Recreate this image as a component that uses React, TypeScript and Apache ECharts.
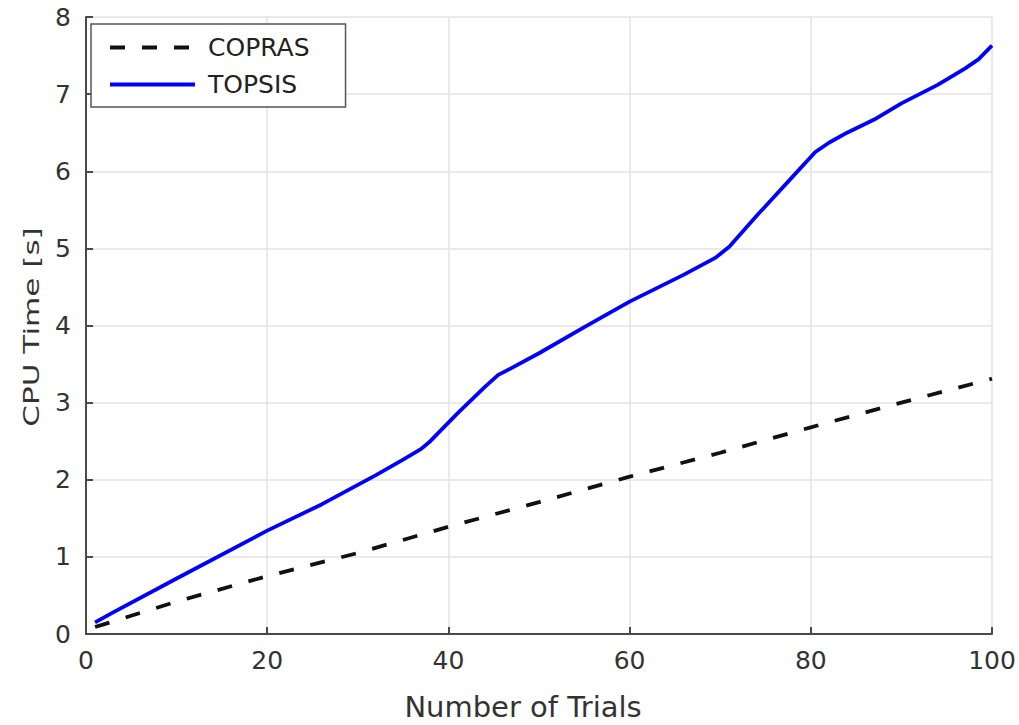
import React, { useEffect, useRef } from "react";
import * as echarts from "echarts";

// CPU time measured per number of trials
const coprasData: [number, number][] = [
  [1, 0.09], [10, 0.42], [20, 0.75], [30, 1.05], [40, 1.39], [50, 1.71],
  [60, 2.04], [70, 2.35], [80, 2.68], [90, 3.0], [100, 3.31],
];

const topsisData: [number, number][] = [
  [1, 0.15], [3, 0.28], [10, 0.72], [20, 1.34], [26, 1.68], [32, 2.06],
  [35, 2.26], [37, 2.4], [38, 2.5], [41, 2.86], [44, 3.2], [45.5, 3.36],
  [47, 3.45], [50, 3.64], [55, 3.98], [60, 4.31], [66, 4.66], [69.5, 4.88],
  [71, 5.02], [74, 5.42], [78, 5.93], [80.5, 6.25], [82, 6.37], [84, 6.5],
  [87, 6.67], [90, 6.88], [94, 7.12], [97, 7.33], [98.5, 7.45], [100, 7.63],
];

const xTicks = { min: 0, max: 100, interval: 20 };
const yTicks = { min: 0, max: 8, interval: 1 };

const FONT = "DejaVu Sans";
const AXIS_COLOR = "#4a4a4a";
const GRID_COLOR = "#e3e3e3";
const LABEL_COLOR = "#333";

export default function App() {
  const ref = useRef<HTMLDivElement>(null);

  useEffect(() => {
    if (!ref.current) return;
    const chart = echarts.init(ref.current, undefined, { renderer: "svg" });

    const axisCommon = {
      type: "value" as const,
      axisLine: { show: true, onZero: false, lineStyle: { color: AXIS_COLOR, width: 2 } },
      axisTick: { show: true, inside: true, length: 7, lineStyle: { color: AXIS_COLOR, width: 2 } },
      axisLabel: { color: LABEL_COLOR, fontFamily: FONT, fontSize: 25 },
      splitLine: { show: true, lineStyle: { color: GRID_COLOR, width: 1.5 } },
    };

    chart.setOption({
      animation: false,
      backgroundColor: "#fff",
      grid: { left: 86, right: 27, top: 17, bottom: 91, containLabel: false },
      xAxis: {
        ...axisCommon,
        ...xTicks,
        axisLabel: { ...axisCommon.axisLabel, margin: 14 },
      },
      yAxis: {
        ...axisCommon,
        ...yTicks,
        axisLabel: { ...axisCommon.axisLabel, margin: 15 },
      },
      legend: {
        orient: "vertical",
        left: 91,
        top: 24,
        padding: [11, 36, 10, 17],
        itemGap: 12,
        itemWidth: 85,
        itemHeight: 14,
        backgroundColor: "#fff",
        borderColor: "#555",
        borderWidth: 1.5,
        itemStyle: { opacity: 0, borderWidth: 0 },
        lineStyle: { width: 4 },
        textStyle: { color: "#222", fontFamily: FONT, fontSize: 25, padding: [0, 0, 0, 8] },
        data: ["COPRAS", "TOPSIS"],
      },
      graphic: [
        {
          type: "text",
          x: 523,
          y: 707,
          style: {
            text: "Number of Trials",
            fill: LABEL_COLOR,
            font: `29px "${FONT}"`,
            align: "center",
            verticalAlign: "middle",
          },
        },
        {
          type: "text",
          x: 31,
          y: 327,
          rotation: Math.PI / 2,
          scaleX: 1.48,
          style: {
            text: "CPU Time [s]",
            fill: LABEL_COLOR,
            font: `21px "${FONT}"`,
            align: "center",
            verticalAlign: "middle",
          },
        },
      ],
      series: [
        {
          name: "COPRAS",
          type: "line",
          data: coprasData,
          showSymbol: false,
          symbol: "none",
          lineStyle: { color: "#111", width: 3.8, type: [15, 17] },
          itemStyle: { color: "#111" },
          z: 3,
        },
        {
          name: "TOPSIS",
          type: "line",
          data: topsisData,
          showSymbol: false,
          symbol: "none",
          lineStyle: { color: "#0000ff", width: 3.8, join: "round" },
          itemStyle: { color: "#0000ff" },
          z: 4,
        },
      ],
    });

    return () => chart.dispose();
  }, []);

  return (
    <div
      ref={ref}
      style={{ position: "fixed", left: 0, top: 0, width: 1019, height: 725 }}
    />
  );
}
